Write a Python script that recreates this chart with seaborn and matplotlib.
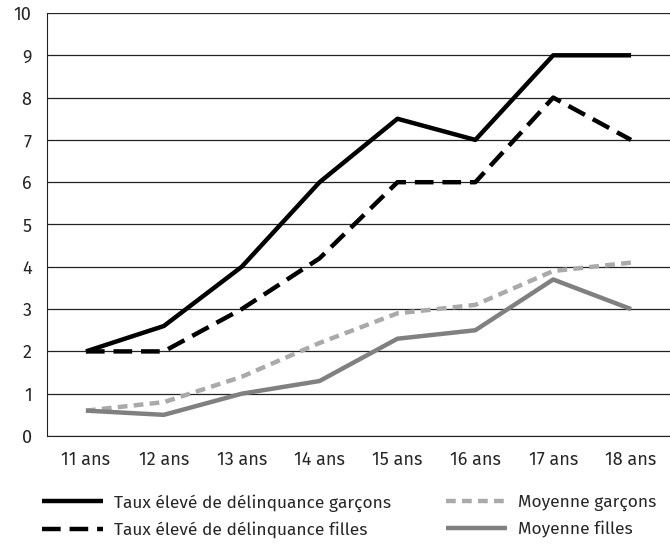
import numpy as np
import pandas as pd
import seaborn as sns
import matplotlib.pyplot as plt
from matplotlib.ticker import FixedLocator

ages = ["11 ans", "12 ans", "13 ans", "14 ans", "15 ans", "16 ans", "17 ans", "18 ans"]
taux_garcons = [2, 2.6, 4, 6, 7.5, 7, 9, 9]
taux_filles = [2, 2, 3, 4.2, 6, 6, 8, 7]
moy_garcons = [0.6, 0.8, 1.4, 2.2, 2.9, 3.1, 3.9, 4.1]
moy_filles = [0.6, 0.5, 1.0, 1.3, 2.3, 2.5, 3.7, 3.0]

labels = ["Taux élevé de délinquance garçons", "Taux élevé de délinquance filles",
          "Moyenne garçons", "Moyenne filles"]

sns.set_style("white")
plt.rcParams['font.family'] = ['Fira Sans', 'Noto Sans', 'DejaVu Sans']

fig = plt.figure(figsize=(6.7, 5.44), dpi=100)
ax = fig.add_axes([47 / 670, 1 - 436 / 544, 623 / 670, 423 / 544])

df = pd.DataFrame({"age": ages, "tg": taux_garcons, "tf": taux_filles,
                   "mg": moy_garcons, "mf": moy_filles})
df["pos"] = np.arange(len(ages))

styles = [
    ("tg", "black", (None, None)),
    ("tf", "black", (4.2, 2.0)),
    ("mg", "#aaaaaa", (2.2, 1.4)),
    ("mf", "#808080", (None, None)),
]
for (col, color, dash), lab in zip(styles, labels):
    sns.lineplot(data=df, x="pos", y=col, ax=ax, color=color, linewidth=3.2,
                 label=lab, legend=False)
    l = ax.get_lines()[-1]
    if dash[0] is not None:
        l.set_dashes(dash)
    l.set_solid_capstyle("butt")

ax.set_xlim(-0.5, 7.5)
ax.set_ylim(0, 10)
ax.set_yticks(range(0, 11))
ax.yaxis.grid(True, color="#222222", linewidth=0.9)
ax.set_axisbelow(True)
ax.set_xticks(range(len(ages)))
ax.set_xticklabels(ages)
ax.xaxis.set_minor_locator(FixedLocator(np.arange(-0.5, 7.6, 1)))
ax.tick_params(axis="x", which="major", length=0, labelsize=13, pad=11)
ax.tick_params(axis="x", which="minor", length=8, width=1, color="#222222", direction="out")
ax.tick_params(axis="y", length=8, width=1, color="#222222", direction="out", labelsize=13, pad=3)
for s in ["top", "right"]:
    ax.spines[s].set_visible(False)
ax.spines["left"].set_color("#222222")
ax.spines["bottom"].set_color("#222222")
ax.set_xlabel("")
ax.set_ylabel("")

handles = ax.get_lines()[:4]
leg_kw = dict(loc="upper left", frameon=False, fontsize=12.5, handlelength=3.5,
              handletextpad=0.65, labelspacing=0.55, borderaxespad=0, borderpad=0)
fig.legend(handles[:2], labels[:2], bbox_to_anchor=(42 / 670, 1 - 494 / 544), **leg_kw)
fig.legend(handles[2:], labels[2:], bbox_to_anchor=(446 / 670, 1 - 494 / 544), **leg_kw)

fig.savefig("out.png", dpi=100)
